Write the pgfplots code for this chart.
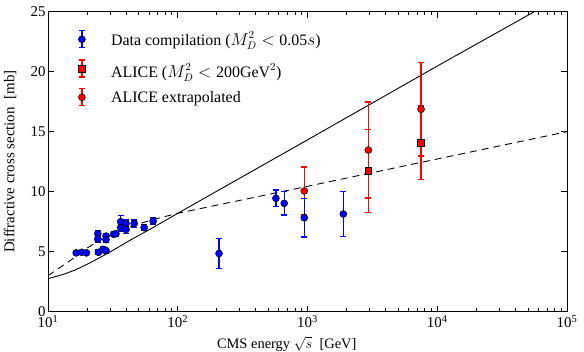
\documentclass[border=0pt]{standalone}
\usepackage{fontspec}
\setmainfont{Liberation Serif}
\usepackage{pgfplots}
\usepackage{pgfplotstable}
\pgfplotsset{compat=1.18}
\definecolor{myblue}{RGB}{0,0,255}
\definecolor{myred}{RGB}{255,0,0}

\pgfplotstableread{
x y e
16.5 4.90 0.15
18.2 4.95 0.15
19.8 4.90 0.15
24.2 6.50 0.25
24.2 6.05 0.25
24.5 4.95 0.20
26.5 5.20 0.20
28.0 5.10 0.20
28.0 6.30 0.20
28.0 6.00 0.20
32.0 6.45 0.20
33.4 6.50 0.20
36.3 7.50 0.55
36.3 7.00 0.30
40.0 7.35 0.30
40.0 6.85 0.30
46.2 7.35 0.30
55.1 7.00 0.25
64.6 7.55 0.30
208 4.85 1.25
571 9.45 0.70
662 9.03 0.97
944 7.83 1.60
1888 8.14 1.90
}\bluedata

\pgfplotstableread{
x y e
2944 11.75 3.45
7499 14.10 3.05
}\alicesq

\pgfplotstableread{
x y e
944 10.06 2.00
2944 13.47 4.00
7499 16.87 3.90
}\aliceext

\pgfplotstableread{
x y
10 2.75
13 3.10
16 3.45
20 3.95
25 4.50
31.5 5.10
42 5.90
63 6.95
100 8.20
1050 14.45
10500 20.60
56000 25.00
100000 26.60
}\solidline

\pgfplotstableread{
x y
10 3.00
15 4.30
20 5.30
25 5.95
31.5 6.50
42 7.05
63 7.65
100 8.20
1050 10.50
100000 15.00
}\dashline

\begin{document}
\begin{tikzpicture}
\begin{axis}[
  scale only axis, width=519bp, height=300bp,
  xmode=log, log basis x=10,
  xmin=10, xmax=100000, ymin=0, ymax=25,
  xtick={10,100,1000,10000,100000},
  xticklabels={10\textsuperscript{1},10\textsuperscript{2},10\textsuperscript{3},10\textsuperscript{4},10\textsuperscript{5}},
  minor xtick={20,30,40,50,60,70,80,90,200,300,400,500,600,700,800,900,2000,3000,4000,5000,6000,7000,8000,9000,20000,30000,40000,50000,60000,70000,80000,90000},
  ytick={0,5,10,15,20,25},
  minor ytick={},
  tick align=inside,
  major tick length=6bp, minor tick length=3.5bp,
  every tick/.style={black, line width=0.8bp},
  axis line style={line width=0.9bp},
  yticklabel style={/pgf/number format/assume math mode=true, font=\fontsize{15}{15}\selectfont, xshift=1bp},
  xticklabel style={font=\fontsize{15}{15}\selectfont},
  xlabel={CMS energy $\sqrt{s}$~~[GeV]},
  ylabel={Diffractive cross section~~[mb]},
  every axis x label/.style={at={(axis description cs:0.46,-0.108)}, anchor=center, font=\fontsize{14.5}{17}\selectfont},
  every axis y label/.style={at={(axis description cs:-0.073,0.5)}, rotate=90, anchor=center, font=\fontsize{15}{18}\selectfont},
  legend style={draw=none, fill=none, inner sep=0pt, at={(axis description cs:0,1)}, anchor=north west, xshift=25bp, yshift=-18bp, font=\fontsize{16}{19}\selectfont, row sep=7.5bp, column sep=0bp, nodes={inner sep=2bp}},
  legend cell align=left,
  clip=true,
]
\addlegendimage{legend image code/.code={
  \path (0bp,0bp) (35.5bp,0bp);
  \draw[myblue, line width=1.2bp] (8.5bp,-8.5bp) -- (8.5bp,8.5bp) (5.5bp,-8.5bp) -- (11.5bp,-8.5bp) (5.5bp,8.5bp) -- (11.5bp,8.5bp);
  \draw[black, mark=*, mark size=3.5bp, mark options={fill=myblue, draw=black, line width=0.5bp}] plot coordinates {(8.5bp,0bp)};
}}
\addlegendentry{Data compilation ($M_D^2<\mbox{0.05}s$)}
\addlegendimage{legend image code/.code={
  \path (0bp,0bp) (35.5bp,0bp);
  \draw[myred, line width=1.2bp] (8.5bp,-8.5bp) -- (8.5bp,8.5bp) (5.5bp,-8.5bp) -- (11.5bp,-8.5bp) (5.5bp,8.5bp) -- (11.5bp,8.5bp);
  \draw[black, mark=square*, mark size=3.4bp, mark options={fill=myred, draw=black, line width=0.5bp}] plot coordinates {(8.5bp,0bp)};
}}
\addlegendentry{\rule{0pt}{19bp}ALICE ($M_D^2<\mbox{200GeV}^2$)}
\addlegendimage{legend image code/.code={
  \path (0bp,0bp) (35.5bp,0bp);
  \draw[myred, line width=1.2bp] (8.5bp,-8.5bp) -- (8.5bp,8.5bp) (5.5bp,-8.5bp) -- (11.5bp,-8.5bp) (5.5bp,8.5bp) -- (11.5bp,8.5bp);
  \draw[black, mark=*, mark size=3.5bp, mark options={fill=myred, draw=black, line width=0.5bp}] plot coordinates {(8.5bp,0bp)};
}}
\addlegendentry{ALICE extrapolated}

\addplot[black, line width=0.9bp, forget plot] table[x=x,y=y]{\solidline};
\addplot[black, line width=0.9bp, dash pattern=on 7bp off 5bp, forget plot] table[x=x,y=y]{\dashline};

\addplot[only marks, mark=*, mark size=3.5bp, mark options={fill=myred, draw=black, line width=0.5bp}, forget plot,
  error bars/.cd, y dir=both, y explicit,
  error bar style={myred, line width=1.2bp},
  error mark options={myred, mark size=3bp, line width=1.2bp, rotate=90}]
  table[x=x,y=y,y error=e]{\aliceext};

\addplot[only marks, mark=square*, mark size=3.4bp, mark options={fill=myred, draw=black, line width=0.5bp}, forget plot,
  error bars/.cd, y dir=both, y explicit,
  error bar style={myred, line width=1.2bp},
  error mark options={myred, mark size=3bp, line width=1.2bp, rotate=90}]
  table[x=x,y=y,y error=e]{\alicesq};

\addplot[only marks, mark=*, mark size=3.5bp, mark options={fill=myblue, draw=black, line width=0.5bp}, forget plot,
  error bars/.cd, y dir=both, y explicit,
  error bar style={myblue, line width=1.2bp},
  error mark options={myblue, mark size=3bp, line width=1.2bp, rotate=90}]
  table[x=x,y=y,y error=e]{\bluedata};
\end{axis}
\pgfresetboundingbox
\path[use as bounding box] ([xshift=-48bp,yshift=-39.3bp]current axis.south west) rectangle ([xshift=17bp,yshift=11.7bp]current axis.north east);
\end{tikzpicture}
\end{document}
